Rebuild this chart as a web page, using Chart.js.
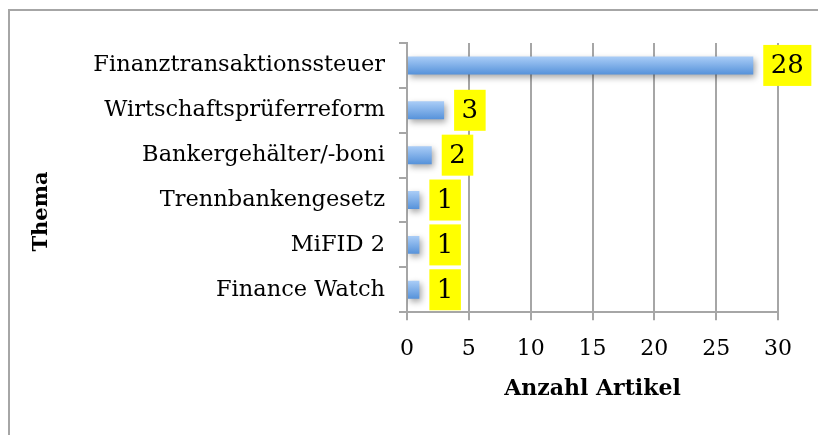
<!DOCTYPE html>
<html>
<head>
<meta charset="utf-8">
<script src="https://cdn.jsdelivr.net/npm/chart.js@4.4.1/dist/chart.umd.min.js"></script>
<style>
    html, body { margin: 0; padding: 0; background: #fff; }
    #wrap { position: relative; width: 818px; height: 435px; }
    #frame {
        position: absolute; left: 8px; top: 9px; right: 0; bottom: 0;
        border-top: 2px solid #a6a6a6; border-left: 2px solid #a6a6a6;
    }
    canvas { position: absolute; left: 0; top: 0; }
</style>
</head>
<body>
<div id="wrap">
    <div id="frame"></div>
    <canvas id="themaChart" width="818" height="435"></canvas>
</div>
<script>
const categories = [
    'Finanztransaktionssteuer',
    'Wirtschaftsprüferreform',
    'Bankergehälter/-boni',
    'Trennbankengesetz',
    'MiFID 2',
    'Finance Watch'
];
const articleCounts = [28, 3, 2, 1, 1, 1];
const xTicks = [0, 5, 10, 15, 20, 25, 30];
const yTitle = 'Thema';

const serif = '"DejaVu Serif", serif';

// yellow boxes with the value, drawn right of each bar end
const valueBoxes = {
    id: 'valueBoxes',
    afterDatasetsDraw(chart) {
        const ctx = chart.ctx;
        const meta = chart.getDatasetMeta(0);
        ctx.save();
        ctx.font = '26px ' + serif;
        ctx.textBaseline = 'middle';
        meta.data.forEach((bar, i) => {
            const text = String(articleCounts[i]);
            const w = ctx.measureText(text).width + 15;
            const h = 41;
            const x = bar.x + 10;
            ctx.fillStyle = '#ffff00';
            ctx.fillRect(x, bar.y - h / 2, w, h);
            ctx.fillStyle = '#000';
            ctx.textAlign = 'center';
            ctx.fillText(text, x + w / 2, bar.y + 1);
        });
        ctx.restore();
    }
};

// y title sits lower than chart.js would center it, so draw it here
const yTitleLabel = {
    id: 'yTitleLabel',
    afterDraw(chart) {
        const ctx = chart.ctx;
        ctx.save();
        ctx.translate(chart.scales.y.left + 6, chart.height / 2 - 6);
        ctx.rotate(-Math.PI / 2);
        ctx.font = 'bold 21px ' + serif;
        ctx.fillStyle = '#000';
        ctx.textAlign = 'center';
        ctx.textBaseline = 'middle';
        ctx.fillText(yTitle, 0, 0);
        ctx.restore();
    }
};

// soft shadow under the bars
const barShadow = {
    id: 'barShadow',
    beforeDatasetsDraw(chart) {
        const ctx = chart.ctx;
        ctx.save();
        ctx.shadowColor = 'rgba(0,0,0,0.35)';
        ctx.shadowBlur = 6;
        ctx.shadowOffsetX = 2;
        ctx.shadowOffsetY = 3;
    },
    afterDatasetsDraw(chart) {
        chart.ctx.restore();
    }
};

function barGradient(context) {
    const chart = context.chart;
    const y = chart.scales.y;
    if (!y || context.dataIndex === undefined) return '#6fa6e6';
    const cy = y.getPixelForValue(context.dataIndex);
    if (!isFinite(cy)) return '#6fa6e6';
    const g = chart.ctx.createLinearGradient(0, cy - 9, 0, cy + 9);
    g.addColorStop(0, '#aacdf7');
    g.addColorStop(1, '#5692da');
    return g;
}

const chart = new Chart(document.getElementById('themaChart'), {
    type: 'bar',
    data: {
        labels: categories,
        datasets: [{
            data: articleCounts,
            backgroundColor: barGradient,
            borderWidth: 0,
            barPercentage: 0.4,
            categoryPercentage: 1
        }]
    },
    plugins: [barShadow, valueBoxes, yTitleLabel],
    options: {
        indexAxis: 'y',
        responsive: false,
        animation: false,
        events: [],
        layout: { padding: { left: 36, right: 40, top: 43, bottom: 33 } },
        plugins: {
            legend: { display: false },
            tooltip: { enabled: false }
        },
        scales: {
            x: {
                min: 0,
                max: 30,
                afterBuildTicks: (axis) => { axis.ticks = xTicks.map(v => ({ value: v })); },
                grid: {
                    color: '#a6a6a6',
                    lineWidth: 2,
                    tickLength: 8,
                    drawTicks: true
                },
                border: { color: '#a6a6a6', width: 2 },
                ticks: {
                    color: '#000',
                    font: { family: serif, size: 22 },
                    padding: 16
                },
                title: {
                    display: true,
                    text: 'Anzahl Artikel',
                    color: '#000',
                    font: { family: serif, size: 22, weight: 'bold' },
                    padding: { top: -3, bottom: 0 }
                }
            },
            y: {
                grid: {
                    offset: true,
                    drawOnChartArea: false,
                    color: '#a6a6a6',
                    lineWidth: 2,
                    tickLength: 8
                },
                border: { color: '#a6a6a6', width: 2 },
                ticks: {
                    color: '#000',
                    font: { family: serif, size: 22.5 },
                    padding: 14
                },
                title: {
                    // keeps the room; the text itself is drawn by yTitleLabel
                    display: true,
                    text: yTitle,
                    color: 'rgba(0,0,0,0)',
                    font: { family: serif, size: 21, weight: 'bold' },
                    padding: { top: 0, bottom: 29 }
                }
            }
        }
    }
});
// second pass so the per-bar gradients see the laid-out scale
chart.update();
</script>
</body>
</html>
